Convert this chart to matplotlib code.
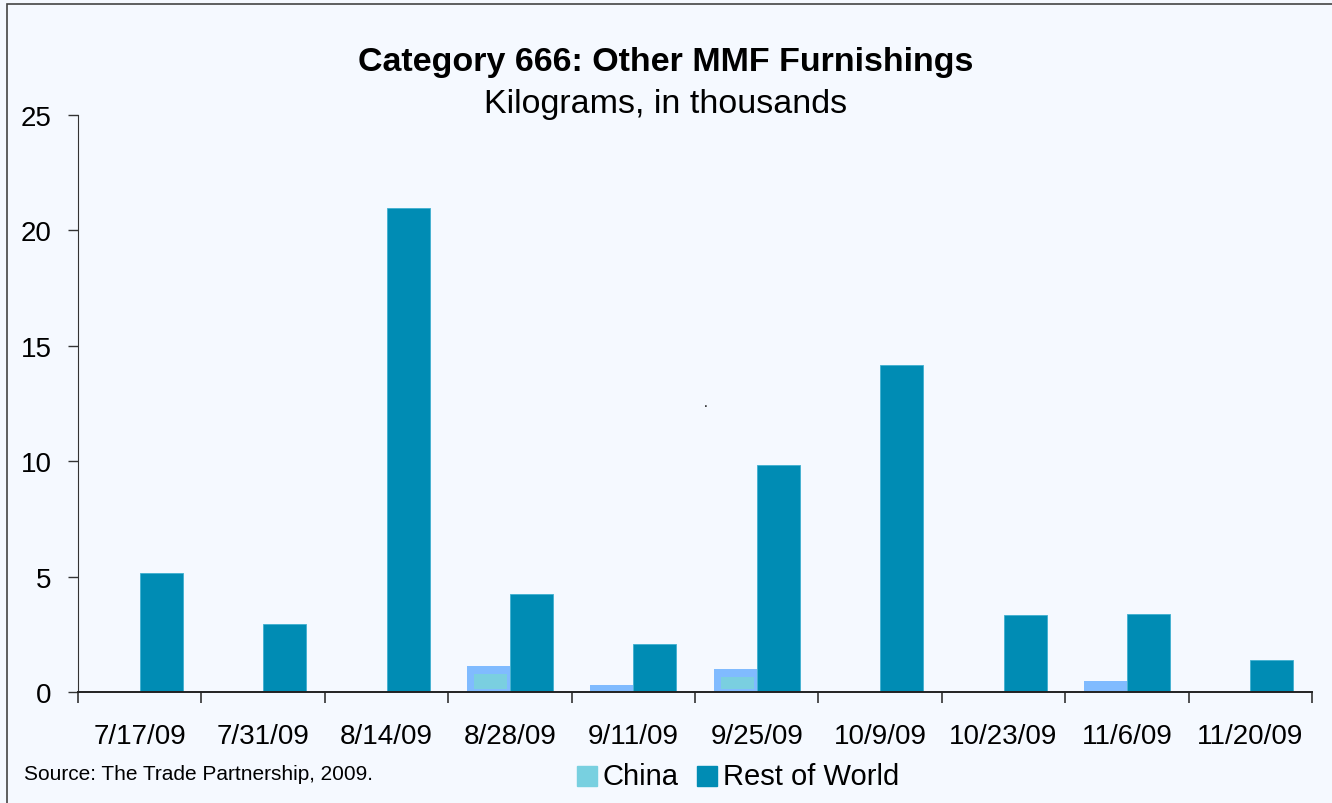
import numpy as np
import matplotlib.pyplot as plt
from matplotlib.patches import Rectangle

plt.rcParams['font.family'] = ['Liberation Sans', 'DejaVu Sans']

dates = ['7/17/09', '7/31/09', '8/14/09', '8/28/09', '9/11/09',
         '9/25/09', '10/9/09', '10/23/09', '11/6/09', '11/20/09']
china = [0, 0, 0, 1.13, 0.3, 1.0, 0, 0, 0.48, 0]
rest_of_world = [5.15, 2.93, 20.95, 4.23, 2.08, 9.83, 14.15, 3.35, 3.4, 1.4]

bg = '#F5F9FF'
fig = plt.figure(figsize=(13.32, 8.04), dpi=100, facecolor=bg)
ax = fig.add_axes([78/1332, 1-693/804, (1312-78)/1332, (693-116)/804])
ax.set_facecolor(bg)

x = np.arange(len(dates))
w = 0.35
ch = np.array(china)
# china bars: light outline + lighter fill like the original (only on taller bars)
ax.bar(x - w/2, ch, w, color='#80BBFF', zorder=2)
big = ch > 0.8
ax.bar(x[big] - w/2 + 0.02, ch[big] - 0.48, w * 0.76, bottom=0.13,
       color='#7ACFE0', zorder=3)
ax.bar(x + w/2, rest_of_world, w, color='#008CB4', edgecolor='#3FB0D0',
       linewidth=0.6, zorder=2)

ax.set_xlim(-0.5, len(dates) - 0.5)
ax.set_ylim(0, 25)
ax.set_yticks([0, 5, 10, 15, 20, 25])
ax.set_xticks(np.arange(-0.5, len(dates)), minor=False)
ax.set_xticklabels([])
ax.set_xticks(x, minor=True)
ax.set_xticklabels(dates, minor=True)
ax.tick_params(axis='x', which='minor', length=0, labelsize=20, pad=22)
ax.tick_params(axis='x', which='major', length=8, width=1.2, color='#333333')
ax.tick_params(axis='y', length=7, width=1, color='#333333', labelsize=20, pad=12)
for s in ['top', 'right']:
    ax.spines[s].set_visible(False)
ax.spines['left'].set_color('#333333')
ax.spines['bottom'].set_color('#222222')
ax.spines['bottom'].set_linewidth(1.4)

fig.text(0.5, 1-63/804, 'Category 666: Other MMF Furnishings', ha='center',
         va='center', fontsize=24.5, fontweight='bold')
fig.text(0.5, 1-104/804, 'Kilograms, in thousands', ha='center', va='center',
         fontsize=24.5)
fig.text(706/1332, 1-403/804, '.', ha='center', va='center', fontsize=10)

fig.text(24/1332, 1-775/804, 'Source: The Trade Partnership, 2009.',
         ha='left', va='center', fontsize=15)
fig.patches.append(Rectangle((577/1332, 1-787/804), 20/1332, 20/804,
                             transform=fig.transFigure, color='#78D0E0'))
fig.text(603/1332, 1-777/804, 'China', ha='left', va='center', fontsize=21)
fig.patches.append(Rectangle((697/1332, 1-787/804), 20/1332, 20/804,
                             transform=fig.transFigure, color='#008CB4'))
fig.text(723/1332, 1-777/804, 'Rest of World', ha='left', va='center', fontsize=21)

fig.patches.append(Rectangle((7/1332, -0.01), 1.0, 1-5/804 + 0.01,
                             transform=fig.transFigure, fill=False,
                             edgecolor='#444444', linewidth=1.2))

fig.savefig('out.png', dpi=100, facecolor=bg)
